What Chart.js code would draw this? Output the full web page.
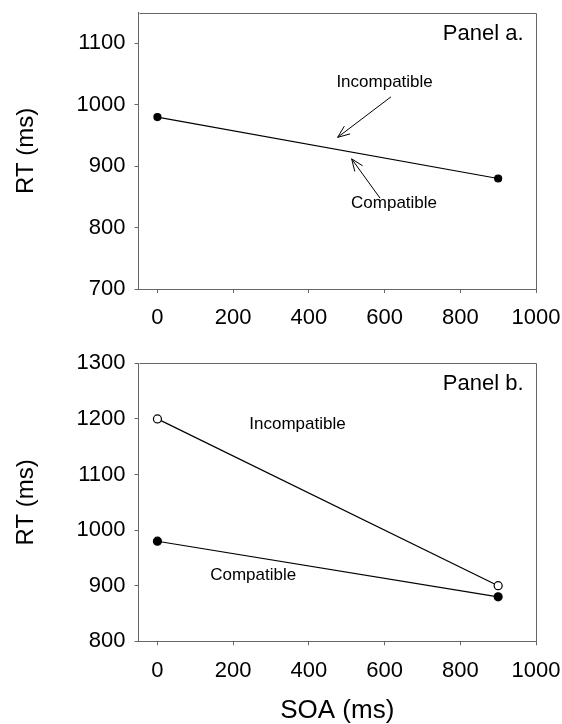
<!DOCTYPE html>
<html>
<head>
<meta charset="utf-8">
<script src="https://cdn.jsdelivr.net/npm/chart.js@4.4.1/dist/chart.umd.min.js"></script>
<style>
  body { margin: 0; background: #fff; }
  #wrap { position: relative; width: 562px; height: 724px; overflow: hidden; }
  canvas { position: absolute; left: 0; }
  #PanelA { top: -20px; }
  #PanelB { top: 330px; }
</style>
</head>
<body>
<div id="wrap">
  <canvas id="PanelA" width="562" height="382"></canvas>
  <canvas id="PanelB" width="562" height="394"></canvas>
</div>
<script>
// values
var soa = [0, 900];
var rtPanelA = [980, 880];
var rtCompatible = [980, 880];
var rtIncompatible = [1200, 900];
var xTicks = [0, 200, 400, 600, 800, 1000];
var yTicksA = [700, 800, 900, 1000, 1100];
var yTicksB = [800, 900, 1000, 1100, 1200, 1300];

var fontFamily = "'Liberation Sans', Arial, Helvetica, sans-serif";
var axisColor = '#666666';

function points(ys) {
    return soa.map(function (x, i) { return { x: x, y: ys[i] }; });
}

function setTicks(list) {
    return function (scale) {
        scale.ticks = list.map(function (v) { return { value: v }; });
    };
}

function drawArrow(ctx, x1, y1, x2, y2) {
    var a = Math.atan2(y2 - y1, x2 - x1), len = 13, spread = 0.38;
    ctx.beginPath();
    ctx.moveTo(x1, y1);
    ctx.lineTo(x2, y2);
    ctx.moveTo(x2 - len * Math.cos(a - spread), y2 - len * Math.sin(a - spread));
    ctx.lineTo(x2, y2);
    ctx.lineTo(x2 - len * Math.cos(a + spread), y2 - len * Math.sin(a + spread));
    ctx.stroke();
}

// box, panel name, condition labels and arrows
function notesPlugin(panelName, labels, arrows) {
    return {
        id: 'notes',
        afterDatasetsDraw: function (chart) {
            var ctx = chart.ctx, xs = chart.scales.x, ys = chart.scales.y, area = chart.chartArea;
            ctx.save();
            ctx.strokeStyle = axisColor;
            ctx.lineWidth = 1;
            ctx.beginPath();
            ctx.moveTo(Math.round(area.left) + 0.5, Math.round(area.top) + 0.5);
            ctx.lineTo(Math.round(area.right) + 0.5, Math.round(area.top) + 0.5);
            ctx.lineTo(Math.round(area.right) + 0.5, Math.round(area.bottom) + 0.5);
            ctx.stroke();

            ctx.fillStyle = '#000';
            ctx.textBaseline = 'middle';
            ctx.textAlign = 'right';
            ctx.font = '22px ' + fontFamily;
            ctx.fillText(panelName, area.right - 12.5, area.top + 21);

            ctx.textAlign = 'center';
            ctx.font = '17px ' + fontFamily;
            labels.forEach(function (l) {
                ctx.fillText(l.text, xs.getPixelForValue(l.x), ys.getPixelForValue(l.y));
            });

            ctx.strokeStyle = '#000';
            arrows.forEach(function (r) {
                drawArrow(ctx, xs.getPixelForValue(r.from[0]), ys.getPixelForValue(r.from[1]),
                    xs.getPixelForValue(r.to[0]), ys.getPixelForValue(r.to[1]));
            });
            ctx.restore();
        }
    };
}

function axisOptions(min, max, list, width, height, pad, title) {
    return {
        type: 'linear',
        min: min,
        max: max,
        afterBuildTicks: setTicks(list),
        afterFit: function (scale) {
            if (width) scale.width = width;
            if (height) scale.height = height;
            scale.paddingLeft = 0;
            scale.paddingRight = 0;
            scale.paddingTop = 0;
            scale.paddingBottom = 0;
        },
        border: { display: true, color: axisColor, width: 1 },
        grid: { drawOnChartArea: false, drawTicks: true, tickLength: 4, color: axisColor },
        ticks: {
            color: '#000',
            padding: pad,
            font: { family: fontFamily, size: 22 },
            callback: function (v) { return String(v); }
        },
        title: title
    };
}

function rtTitle() {
    return { display: true, text: 'RT (ms)', color: '#000', padding: { top: 12 }, font: { family: fontFamily, size: 24 } };
}

new Chart(document.getElementById('PanelA'), {
    type: 'scatter',
    data: {
        datasets: [
            {
                label: 'Compatible / Incompatible',
                data: points(rtPanelA),
                showLine: true,
                borderColor: '#000',
                borderWidth: 1.2,
                pointRadius: 3.5,
                pointBackgroundColor: '#000',
                pointBorderColor: '#000'
            }
        ]
    },
    options: {
        responsive: false,
        animation: false,
        layout: { padding: { left: 0, right: 26, top: 32.7, bottom: 0 } },
        plugins: { legend: { display: false }, tooltip: { enabled: false } },
        scales: {
            x: axisOptions(-50, 1000, xTicks, null, 73, 12, { display: false }),
            y: axisOptions(700, 1150, yTicksA, 138.5, null, 9, rtTitle())
        }
    },
    plugins: [notesPlugin('Panel a.',
        [{ text: 'Incompatible', x: 600, y: 1037 }, { text: 'Compatible', x: 625, y: 839 }],
        [{ from: [617, 1013], to: [476, 947] }, { from: [588, 848], to: [513, 912] }])]
});

new Chart(document.getElementById('PanelB'), {
    type: 'scatter',
    data: {
        datasets: [
            {
                label: 'Incompatible',
                data: points(rtIncompatible),
                showLine: true,
                borderColor: '#000',
                borderWidth: 1.2,
                pointRadius: 4,
                pointBackgroundColor: '#fff',
                pointBorderColor: '#000',
                pointBorderWidth: 1.2
            },
            {
                label: 'Compatible',
                data: points(rtCompatible),
                showLine: true,
                borderColor: '#000',
                borderWidth: 1.2,
                pointRadius: 4,
                pointBackgroundColor: '#000',
                pointBorderColor: '#000'
            }
        ]
    },
    options: {
        responsive: false,
        animation: false,
        layout: { padding: { left: 0, right: 26, top: 33.3, bottom: 0 } },
        plugins: { legend: { display: false }, tooltip: { enabled: false } },
        scales: {
            x: axisOptions(-50, 1000, xTicks, null, 82.7, 12,
                { display: true, text: 'SOA (ms)', color: '#000', padding: { top: 0, bottom: 0 }, font: { family: fontFamily, size: 26, lineHeight: 1 } }),
            y: axisOptions(800, 1300, yTicksB, 138.5, null, 9, rtTitle())
        }
    },
    plugins: [notesPlugin('Panel b.',
        [{ text: 'Incompatible', x: 370, y: 1191 }, { text: 'Compatible', x: 253, y: 919 }],
        [])]
});
</script>
</body>
</html>
